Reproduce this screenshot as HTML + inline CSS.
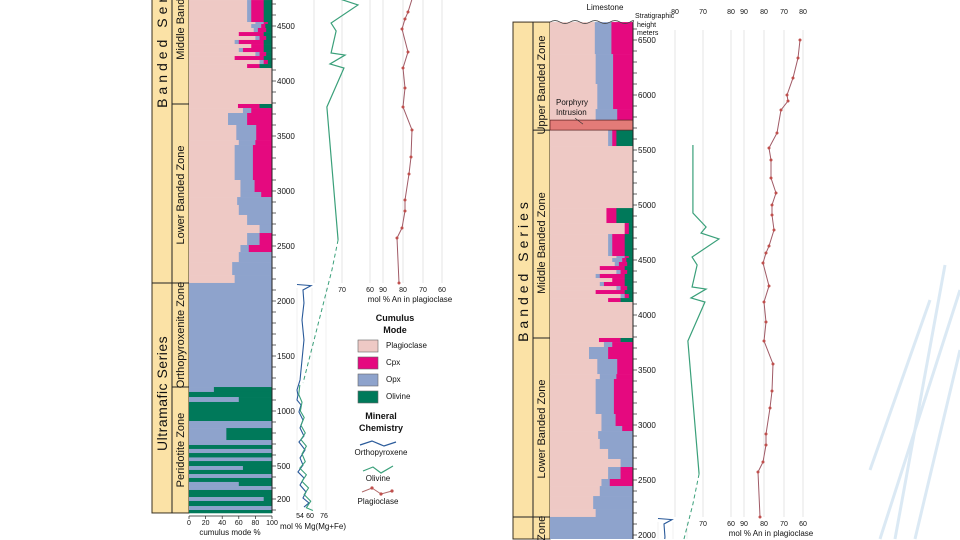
<!DOCTYPE html>
<html><head><meta charset="utf-8"><style>
html,body{margin:0;padding:0;background:#fff;width:960px;height:540px;overflow:hidden;}
svg{display:block;font-family:"Liberation Sans",sans-serif;overflow:hidden;}
</style></head><body>
<svg id="fig" width="960" height="540" viewBox="0 0 960 540" xmlns="http://www.w3.org/2000/svg">
<defs><clipPath id="frameClip"><rect x="0" y="0" width="960" height="540"/></clipPath></defs>
<g stroke="#dbe9f4" stroke-width="3" fill="none">
<line x1="960" y1="290" x2="880" y2="539"/><line x1="945" y1="265" x2="895" y2="539"/><line x1="930" y1="300" x2="870" y2="470"/><line x1="960" y1="350" x2="915" y2="539"/>
</g>
<g id="panels" clip-path="url(#frameClip)"></g>
<g id="legend" font-size="8" fill="#111">
<text x="395" y="321" text-anchor="middle" font-weight="bold" font-size="9">Cumulus</text>
<text x="395" y="333" text-anchor="middle" font-weight="bold" font-size="9">Mode</text>
<rect x="358" y="340" width="20" height="12" fill="#eec9c5" stroke="#666" stroke-width="0.6"/>
<text x="386" y="348">Plagioclase</text>
<rect x="358" y="357" width="20" height="12" fill="#e5097f" stroke="#666" stroke-width="0.6"/>
<text x="386" y="365">Cpx</text>
<rect x="358" y="374" width="20" height="12" fill="#8ea3cc" stroke="#666" stroke-width="0.6"/>
<text x="386" y="382">Opx</text>
<rect x="358" y="391" width="20" height="12" fill="#00795a" stroke="#666" stroke-width="0.6"/>
<text x="386" y="399">Olivine</text>
<text x="381" y="419" text-anchor="middle" font-weight="bold" font-size="9">Mineral</text>
<text x="381" y="431" text-anchor="middle" font-weight="bold" font-size="9">Chemistry</text>
<polyline points="360,445 372,441 384,446 396,442" fill="none" stroke="#2a5a9a" stroke-width="1.2"/>
<text x="381" y="455" text-anchor="middle">Orthopyroxene</text>
<polyline points="363,471 373,467 381,473 393,466" fill="none" stroke="#3aa07a" stroke-width="1.2"/>
<text x="378" y="481" text-anchor="middle">Olivine</text>
<polyline points="362,492 372,488 381,494 392,491" fill="none" stroke="#b06a6a" stroke-width="1"/>
<g fill="#c0504d"><circle cx="372" cy="488" r="1.6"/><circle cx="381" cy="494" r="1.6"/><circle cx="392" cy="491" r="1.6"/></g>
<text x="378" y="504" text-anchor="middle">Plagioclase</text>
</g>
</svg>
<script>
// ---- data ----
const modeTop = [6663,6372,6100,5872,5772,5681,5536,4972,4836,4736,4536,4518,4482,4445,4409,4373,4336,4300,4263,4227,4191,4154,4118,3791,3754,3709,3600,3463,3418,3100,2991,2945,2873,2782,2691,2618,2573,2509,2445,2354,2236,2164,
1218,1173,1127,1082,909,845,736,691,655,618,578,545,500,464,427,391,355,318,282,218,182,136,100];
const modeBottom = 73;
const plagPct = [54,55,57,55,50,70,100,68,90,70,80,75,78,60,80,55,75,60,80,55,85,70,100,59,65,47,57,60,55,62,62,58,60,70,85,70,70,62,60,52,55,0,
0,0,0,0,0,0,0,0,0,0,0,0,0,0,0,0,0,0,0,0,0,0,0];
const opxPct = [20,21,19,26,30,5,0,0,0,5,10,12,5,0,5,5,0,5,5,0,5,0,0,0,10,23,24,20,22,17,25,42,40,30,15,15,15,10,40,48,45,100,
30,0,60,0,100,45,100,0,100,0,100,0,65,0,100,0,60,100,0,90,0,100,0];
const cpxPct = [26,24,24,19,20,5,0,12,5,15,5,5,10,30,8,30,15,25,8,35,5,15,0,26,25,30,19,20,23,21,13,0,0,0,0,15,15,28,0,0,0,0,
0,0,0,0,0,0,0,0,0,0,0,0,0,0,0,0,0,0,0,0,0,0,0];
const olPct = [0,0,0,0,0,20,0,20,5,10,5,8,7,10,7,10,10,10,7,10,5,15,0,15,0,0,0,0,0,0,0,0,0,0,0,0,0,0,0,0,0,0,
70,100,40,100,0,55,0,100,0,100,0,100,35,100,0,100,40,0,100,10,100,0,100];
const olivH = [5545,4927,4800,4745,4691,4527,4455,4255,4236,4155,4118,3764,2555];
const olivFo = [73.6,73.6,68.9,70.7,64.3,73.9,72.1,73.9,68.9,74.3,69.3,75.4,71.4];
const dashH = [2555,2282,1255];
const dashFo = [71.4,73.6,83.9];
const anH = [6500,6336,6155,6000,5945,5864,5655,5518,5409,5245,5109,5000,4909,4773,4627,4564,4473,4264,4118,3936,3764,3555,3309,3155,2918,2818,2664,2573,2164];
const anVal = [62,63,65.5,68.5,68,71.5,73.5,77.5,76.5,76.5,74,76,76,75,77.5,79,80.5,77.5,80,79,80,75.5,76,77,79,79,80.5,83,82];
const opxH = [2150,2140,2100,1982,1827,1645,1464,1282,1191,1145,1100,1055,991,918,846,773,718,646,573,509,446,391,327,264,209,164,127];
const opxMg = [49.4,62.3,54.9,55.8,54,55.8,54,52.2,49.4,50.3,49.4,53.1,51.2,54.9,52.2,55.8,51.2,56.8,52.2,54.9,50.3,55.8,52.2,57.7,54.9,60.4,55.8];
const olH = [1237,1150,1080,1000,940,870,800,740,680,610,540,480,420,360,300,240,180,120,95];
const olMg = [52,51,54,52.5,56,53,57,53,58,54,57,52,58,54,60,56,62,58,64];
const heightTicks = [6500,6000,5500,5000,4500,4000,3500,3000,2500,2000,1500,1000,500,200];
const modeTicks = [0,20,40,60,80,100];
const anTickLabels = ["60","90","80","70","60"];
const topTickLabels = ["80","70","80","90","80","70","80"];

// ---- scales (left-panel coordinates) ----
const yH = h => 26 + (4500 - h) * 0.11;
const xMode = p => 189 + p * 0.83;
const xFo = f => 314 + (80 - f) * 2.8;
const xAn = a => 383 + (90 - a) * 2;
const xMg = m => 302 + (m - 54) * 1.09;
const NS = "http://www.w3.org/2000/svg";
function mk(tag, attrs, parent) {
  const e = document.createElementNS(NS, tag);
  for (const k in attrs) e.setAttribute(k, attrs[k]);
  parent.appendChild(e);
  return e;
}
function txt(parent, x, y, s, size, extra) {
  const t = mk('text', Object.assign({x: x, y: y, 'font-size': size, fill: '#111'}, extra || {}), parent);
  t.textContent = s;
  return t;
}
const colours = {plag:'#eec9c5', opx:'#8ea3cc', cpx:'#e5097f', ol:'#00795a'};

function drawPanel(dx, dy, pname) {
  const g = mk('g', {transform: 'translate(' + dx + ',' + dy + ')'}, document.getElementById('panels'));
  
  
  const top = yH(modeTop[0]), bot = yH(modeBottom);
  [314,342,370,383,403,423,442].forEach(x => {
    const l = mk('line', {x1: x, x2: x, y1: -204, y2: 283, stroke: '#dedede', 'stroke-width': 0.8}, g);
    
    
  });
  [297,312,326].forEach(x => {
    const l = mk('line', {x1: x, x2: x, y1: 288, y2: 510, stroke: '#e6e6e6', 'stroke-width': 0.6}, g);
    
    
  });
  const sc = mk('rect', {x: 152, y: top, width: 37, height: bot - top, fill: '#fbe2a6', stroke: '#3a3020', 'stroke-width': 1}, g);
  
  
  mk('line', {x1: 172, x2: 172, y1: top, y2: bot, stroke: '#222', 'stroke-width': 1}, g);
  [yH(5681), yH(3791), yH(2164), yH(1218)].forEach(y => mk('line', {x1: 172, x2: 189, y1: y, y2: y, stroke: '#222', 'stroke-width': 1}, g));
  mk('line', {x1: 152, x2: 172, y1: yH(2164), y2: yH(2164), stroke: '#222', 'stroke-width': 1}, g);
  for (let i = 0; i < modeTop.length; i++) {
    const yt = yH(modeTop[i]);
    const yb = yH(i + 1 < modeTop.length ? modeTop[i + 1] : modeBottom);
    let acc = 0;
    [['plag', plagPct[i]], ['opx', opxPct[i]], ['cpx', cpxPct[i]], ['ol', olPct[i]]].forEach(([k, v]) => {
      if (v > 0) {
        const r = mk('rect', {x: xMode(acc), y: yt, width: xMode(acc + v) - xMode(acc) + 0.3, height: yb - yt + 0.3, fill: colours[k]}, g);
        
        
      }
      acc += v;
    });
  }
  const pi = mk('rect', {x: 189, y: yH(5772), width: 83, height: yH(5681) - yH(5772), fill: '#e37b78', stroke: '#5a2020', 'stroke-width': 0.7}, g);
  
  
  txt(g, 195, yH(5772) - 15, 'Porphyry', 8);
  txt(g, 195, yH(5772) - 5, 'Intrusion', 8);
  mk('line', {x1: 214, y1: yH(5772) - 2, x2: 222, y2: yH(5772) + 4, stroke: '#333', 'stroke-width': 0.6}, g);
  mk('path', {d: 'M189 ' + top + ' q5 -3 10 0 t10 0 t10 0 t10 0 t10 0 t10 0 t10 0 t10 0 t3 0', fill: 'none', stroke: '#444', 'stroke-width': 0.8}, g);
  txt(g, 244, top - 12, 'Limestone', 8, {'text-anchor': 'middle'});
  txt(g, 274, top - 4, 'Stratigraphic', 7);
  txt(g, 276, top + 5, 'height', 7);
  txt(g, 276, top + 13, 'meters', 7);
  const ax = mk('line', {x1: 272, x2: 272, y1: top, y2: bot, stroke: '#222', 'stroke-width': 1}, g);
  
  
  for (let h = 100; h <= 6600; h += 100) mk('line', {x1: 272, x2: 276, y1: yH(h), y2: yH(h), stroke: '#222', 'stroke-width': 0.7}, g);
  heightTicks.forEach(h => {
    const t = txt(g, 277, yH(h) + 3, String(h), 8);
    
    
  });
  mk('line', {x1: 189, x2: 272, y1: bot + 3, y2: bot + 3, stroke: '#222', 'stroke-width': 0.8}, g);
  modeTicks.forEach(p => {
    mk('line', {x1: xMode(p), x2: xMode(p), y1: bot + 3, y2: bot + 6, stroke: '#222', 'stroke-width': 0.7}, g);
    txt(g, xMode(p), bot + 12, String(p), 7, {'text-anchor': 'middle'});
  });
  txt(g, 230, bot + 22, 'cumulus mode %', 8, {'text-anchor': 'middle'});
  const rot = (x, y, s, size, extra) => txt(g, x, y, s, size, Object.assign({'text-anchor': 'middle', transform: 'rotate(-90 ' + x + ' ' + y + ')'}, extra || {}));
  rot(167, yH(1160), 'Ultramafic Series', 14, {'letter-spacing': '0.5'});
  rot(167, 36, 'Banded Series', 14, {'letter-spacing': '4'});
  rot(184, 450, 'Peridotite Zone', 11);
  rot(184, 335, 'Orthopyroxenite Zone', 11);
  rot(184, 195, 'Lower Banded Zone', 11);
  rot(184, 9, 'Middle Banded Zone', 11);
  rot(184, -149, 'Upper Banded Zone', 11);
  const ol = mk('polyline', {points: olivH.map((h, i) => xFo(olivFo[i]) + ',' + yH(h)).join(' '), fill: 'none', stroke: '#3aa07a', 'stroke-width': 1.2}, g);
  
  
  const dl = mk('polyline', {points: dashH.map((h, i) => xFo(dashFo[i]) + ',' + yH(h)).join(' '), fill: 'none', stroke: '#3aa07a', 'stroke-width': 1, 'stroke-dasharray': '4 3'}, g);
  
  
  const pl = mk('polyline', {points: anH.map((h, i) => xAn(anVal[i]) + ',' + yH(h)).join(' '), fill: 'none', stroke: '#a05a66', 'stroke-width': 1}, g);
  
  
  anH.forEach((h, i) => {
    const c = mk('circle', {cx: xAn(anVal[i]), cy: yH(h), r: 1.5, fill: '#c0504d'}, g);
    
    
  });
  const ox = mk('polyline', {points: opxH.map((h, i) => xMg(opxMg[i]) + ',' + yH(h)).join(' '), fill: 'none', stroke: '#2a5a9a', 'stroke-width': 1.1}, g);
  
  
  const om = mk('polyline', {points: olH.map((h, i) => xMg(olMg[i]) + ',' + yH(h)).join(' '), fill: 'none', stroke: '#3aa07a', 'stroke-width': 1.1}, g);
  
  
  txt(g, 342, 292, '70', 7, {'text-anchor': 'middle'});
  const anX = [370, 383, 403, 423, 442];
  anTickLabels.forEach((s, i) => txt(g, anX[i], 292, s, 7, {'text-anchor': 'middle'}));
  txt(g, 410, 302, 'mol % An in plagioclase', 8, {'text-anchor': 'middle'});
  const topX = [314, 342, 370, 383, 403, 423, 442];
  topTickLabels.forEach((s, i) => txt(g, topX[i], top - 8, s, 7, {'text-anchor': 'middle'}));
  [['54', 300], ['60', 310], ['76', 324]].forEach(([s, x]) => txt(g, x, 518, s, 7, {'text-anchor': 'middle'}));
  txt(g, 313, 529, 'mol % Mg(Mg+Fe)', 8, {'text-anchor': 'middle'});
  trimPanel(g, dy);
}
// remove / clamp anything beyond the bottom edge of the frame
function trimPanel(g, dy) {
  const lim = 539 - dy;
  Array.from(g.children).forEach(el => {
    const tag = el.tagName;
    if (tag === 'rect') {
      const y = +el.getAttribute('y'), h = +el.getAttribute('height');
      if (y >= lim) el.remove();
      else if (y + h > lim) el.setAttribute('height', lim - y);
    } else if (tag === 'line') {
      const y1 = +el.getAttribute('y1'), y2 = +el.getAttribute('y2');
      if (Math.min(y1, y2) >= lim) el.remove();
      else { if (y1 > lim) el.setAttribute('y1', lim); if (y2 > lim) el.setAttribute('y2', lim); }
    } else if (tag === 'polyline') {
      const pts = el.getAttribute('points').split(' ').map(p => p.split(',').map(Number));
      const out = [];
      for (let i = 0; i < pts.length; i++) {
        const [x, y] = pts[i];
        if (y <= lim) out.push([x, y]);
        else {
          if (i > 0 && pts[i - 1][1] < lim) {
            const [px, py] = pts[i - 1];
            out.push([px + (x - px) * (lim - py) / (y - py), lim]);
          }
        }
      }
      if (out.length < 2) el.remove(); else el.setAttribute('points', out.map(p => p.join(',')).join(' '));
    } else if (tag === 'circle') {
      if (+el.getAttribute('cy') + 2 > lim) el.remove();
    } else if (tag === 'text' || tag === 'path') {
      const r = el.getBoundingClientRect();
      if (r.top >= 540) el.remove();
    }
  });
}
drawPanel(0, 0, 'left-panel');
drawPanel(361, 234, 'right-panel');
</script>
</body></html>
